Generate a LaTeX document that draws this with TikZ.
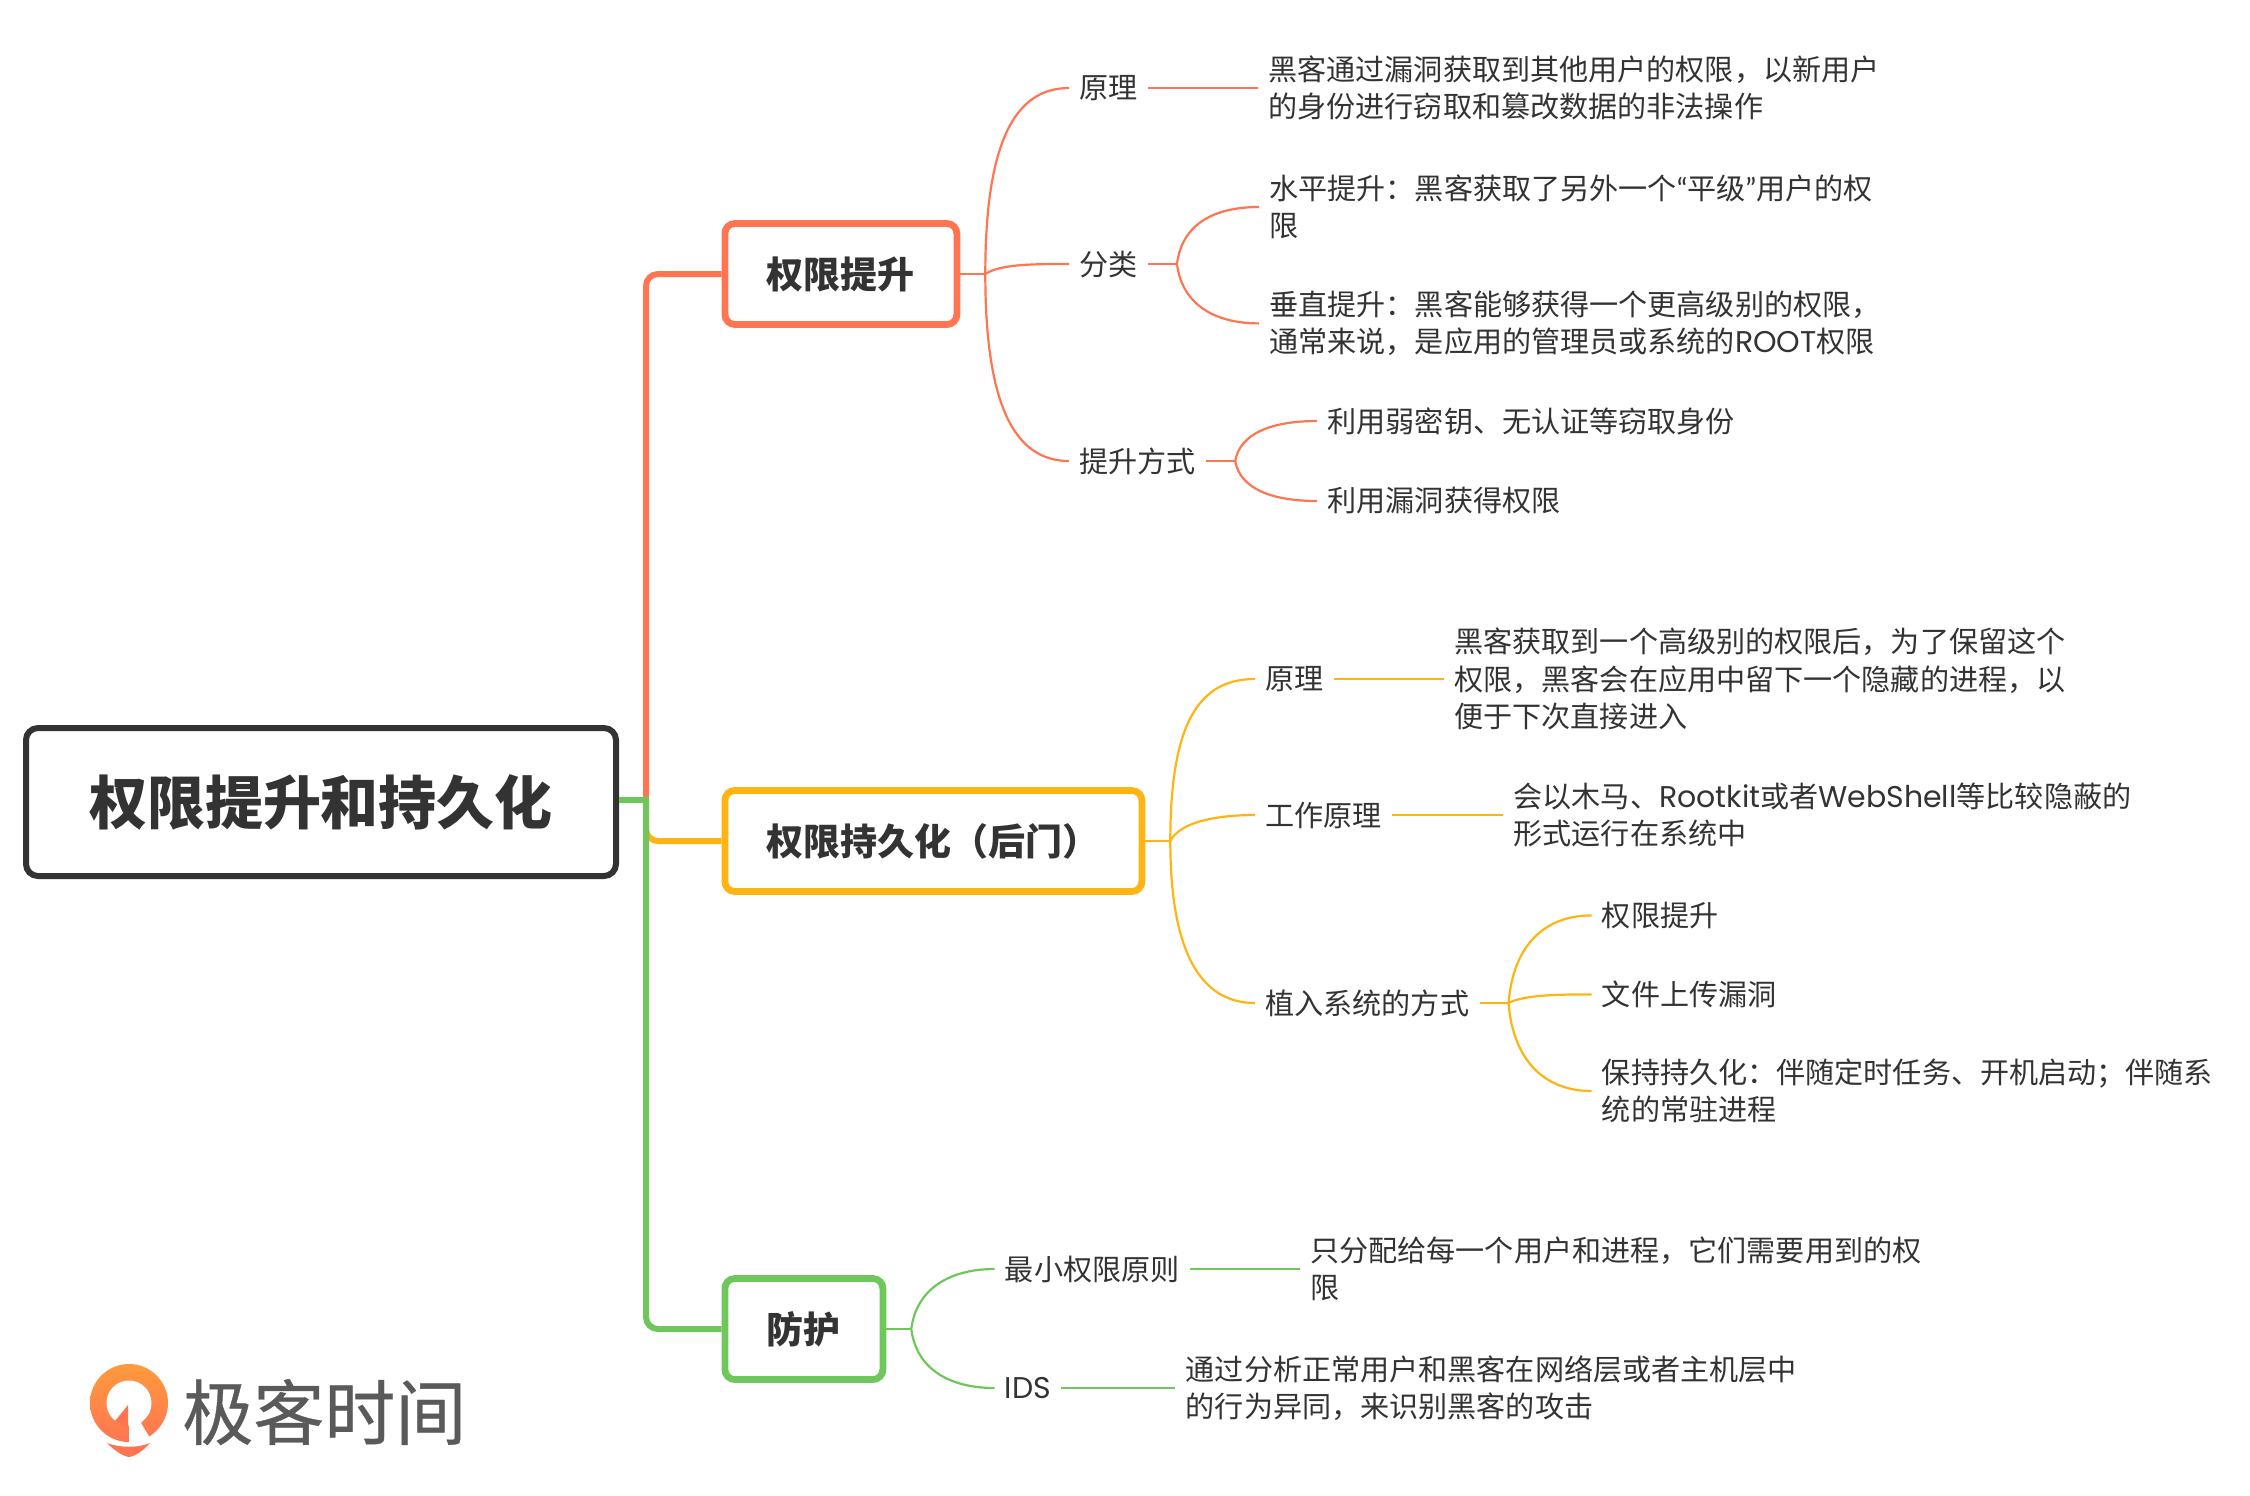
\documentclass[tikz,border=0pt]{standalone}
\usepackage{fontspec}
\setmainfont{Noto Sans CJK SC}
\newfontfamily\latf[Scale=1.03]{Poppins}
\newfontfamily\quotef{Lato}
\newfontfamily\logof[FakeBold=0.5]{Noto Sans CJK SC}
\newcommand{\lat}[1]{{\latf #1}}
\usetikzlibrary{positioning}
\definecolor{inkc}{HTML}{333333}
\definecolor{redc}{HTML}{FF7552}
\definecolor{yelc}{HTML}{FFB413}
\definecolor{grnc}{HTML}{6FC75C}
\definecolor{logoc}{HTML}{5A5A5A}
\definecolor{logot}{HTML}{FF9A3C}

\begin{document}
\begin{tikzpicture}[
  x=0.5pt, y=-0.5pt,
  text=inkc,
  root/.style={draw=inkc, line width=3pt, rounded corners=6pt, inner xsep=31.5pt, minimum height=74pt, font=\fontsize{29}{36}\selectfont\bfseries},
  branch/.style={draw=#1, line width=3.4pt, rounded corners=5pt, inner xsep=21pt, minimum height=50.5pt, font=\fontsize{18.5}{24}\selectfont\bfseries},
  lbl/.style={inner xsep=5pt, inner ysep=0pt, anchor=west, font=\fontsize{14.55}{18.7}\selectfont},
  leaf/.style={lbl, align=left},
  trunk/.style={line width=3pt, rounded corners=6pt},
  link/.style={line width=1.1pt}
]
\useasboundingbox (0,0) rectangle (2250,1495);
% centre and branches
\node[root] (top) at (321,802) {权限提升和持久化};
\node[branch=redc, anchor=west] (priv) at (721.5,274) {权限提升};
\node[branch=yelc, anchor=west] (persist) at (721.5,841) {权限持久化（后门）};
\node[branch=grnc, anchor=west] (guard) at (721.5,1329) {防护};
\coordinate (jct) at (646,800);
\draw[trunk, redc] (jct) |- (priv.west);
\draw[trunk, yelc] (jct) |- (persist.west);
\draw[trunk, grnc] (jct) |- (guard.west);
\draw[line width=3pt, grnc] (top.east |- jct) -- ([xshift=1.5pt]jct);
% privilege escalation
\coordinate[right=12.5pt of priv] (privf);
\node[lbl] (pprin) at (1069,88) {原理};
\node[lbl] (psort) at (1069,264) {分类};
\node[lbl] (pway) at (1069,461) {提升方式};
\node[leaf, right=55pt of pprin] (pprint) {黑客通过漏洞获取到其他用户的权限，以新用户\\的身份进行窃取和篡改数据的非法操作};
\coordinate[right=14.5pt of psort] (psortf);
\coordinate[right=14.5pt of pway] (pwayf);
\node[leaf, right=41pt of psortf, yshift=28.5pt] (phor) {水平提升：黑客获取了另外一个{\quotef “}平级{\quotef ”}用户的权\\限};
\node[leaf, right=41pt of psortf, yshift=-29.7pt] (pver) {垂直提升：黑客能够获得一个更高级别的权限，\\通常来说，是应用的管理员或系统的\lat{ROOT}权限};
\node[leaf, right=41pt of pwayf, yshift=20pt] (pweak) {利用弱密钥、无认证等窃取身份};
\node[leaf, right=41pt of pwayf, yshift=-20pt] (pvuln) {利用漏洞获得权限};
\draw[link, redc] (priv.east) -- (privf);
\draw[link, redc] (privf) .. controls +(0,-130) and +(-55,0) .. (pprin.west);
\draw[link, redc] (privf) .. controls +(15,-10) and +(-35,0) .. (psort.west);
\draw[link, redc] (privf) .. controls +(0,130) and +(-55,0) .. (pway.west);
\draw[link, redc] (pprin) -- (pprint);
\draw[link, redc] (psort) -- (psortf);
\draw[link, redc] (pway) -- (pwayf);
\draw[link, redc] (psortf) .. controls +(5,-40) and +(-45,0) .. (phor.west);
\draw[link, redc] (psortf) .. controls +(5,40) and +(-45,0) .. (pver.west);
\draw[link, redc] (pwayf) .. controls +(5,-28) and +(-45,0) .. (pweak.west);
\draw[link, redc] (pwayf) .. controls +(5,28) and +(-45,0) .. (pvuln.west);
% persistence
\coordinate[right=12.5pt of persist] (persf);
\node[lbl] (yprin) at (1255,679) {原理};
\node[lbl] (ywork) at (1255,815) {工作原理};
\node[lbl] (yway) at (1255,1003) {植入系统的方式};
\node[leaf, right=55pt of yprin] (yprint) {黑客获取到一个高级别的权限后，为了保留这个\\权限，黑客会在应用中留下一个隐藏的进程，以\\便于下次直接进入};
\node[leaf, right=55.5pt of ywork] (yworkt) {会以木马、\lat{Rootkit}或者\lat{WebShell}等比较隐蔽的\\形式运行在系统中};
\coordinate[right=14.5pt of yway] (ywayf);
\node[leaf, right=41.5pt of ywayf, yshift=43.8pt] (yesc) {权限提升};
\node[leaf, right=41.5pt of ywayf, yshift=4.3pt] (yup) {文件上传漏洞};
\node[leaf, right=41.5pt of ywayf, yshift=-44pt] (ykeep) {保持持久化：伴随定时任务、开机启动；伴随系\\统的常驻进程};
\draw[link, yelc] (persist.east) -- (persf);
\draw[link, yelc] (persf) .. controls +(0,-120) and +(-55,0) .. (yprin.west);
\draw[link, yelc] (persf) .. controls +(10,-20) and +(-35,0) .. (ywork.west);
\draw[link, yelc] (persf) .. controls +(0,110) and +(-55,0) .. (yway.west);
\draw[link, yelc] (yprin) -- (yprint);
\draw[link, yelc] (ywork) -- (yworkt);
\draw[link, yelc] (yway) -- (ywayf);
\draw[link, yelc] (ywayf) .. controls +(5,-60) and +(-45,0) .. (yesc.west);
\draw[link, yelc] (ywayf) .. controls +(15,-8) and +(-35,0) .. (yup.west);
\draw[link, yelc] (ywayf) .. controls +(5,60) and +(-45,0) .. (ykeep.west);
% protection
\coordinate[right=12.5pt of guard] (guardf);
\node[lbl] (gleast) at (994.5,1269) {最小权限原则};
\node[lbl] (gids) at (994.5,1388) {\lat{IDS}};
\node[leaf, right=55pt of gleast] (gleastt) {只分配给每一个用户和进程，它们需要用到的权\\限};
\node[leaf, right=57pt of gids] (gidst) {通过分析正常用户和黑客在网络层或者主机层中\\的行为异同，来识别黑客的攻击};
\draw[link, grnc] (guard.east) -- (guardf);
\draw[link, grnc] (guardf) .. controls +(5,-40) and +(-45,0) .. (gleast.west);
\draw[link, grnc] (guardf) .. controls +(5,40) and +(-45,0) .. (gids.west);
\draw[link, grnc] (gleast) -- (gleastt);
\draw[link, grnc] (gids) -- (gidst);
% logo
\shade[top color=logot, middle color=redc, bottom color=redc] (129,1403) circle[radius=39];
\fill[white] (129,1403) circle[radius=22.5];
\fill[redc] (115,1421) -- (128,1405) -- (128,1428) -- cycle;
\fill[white] (129,1405) -- (129,1445) -- (150,1438) -- (141,1423) -- (150,1412) -- cycle;
\fill[redc] (107,1443) .. controls (120,1448) and (138,1448) .. (150,1443) .. controls (144,1450) and (136,1456) .. (129,1457) .. controls (122,1456) and (114,1450) .. (107,1443) -- cycle;
\node[logoc, inner sep=0pt, anchor=west, font=\fontsize{35.5}{40}\selectfont\logof] (logo) at (182,1412) {极客时间};
\end{tikzpicture}
\end{document}
